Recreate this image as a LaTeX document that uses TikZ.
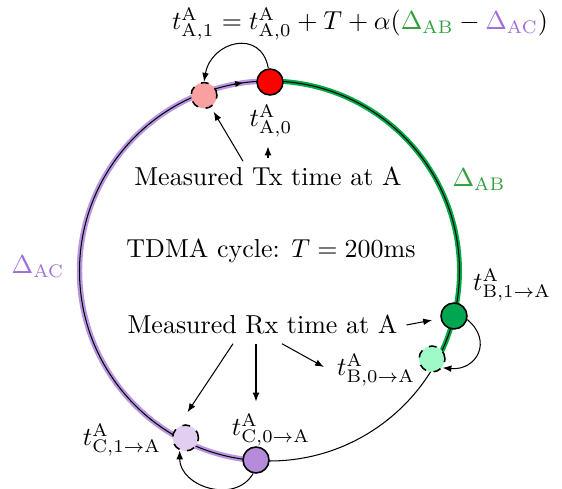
\documentclass[tikz,border=0pt]{standalone}
\usetikzlibrary{arrows.meta}
\definecolor{gband}{RGB}{0,168,72}
\definecolor{gnode}{RGB}{0,166,80}
\definecolor{lgnode}{RGB}{160,250,200}
\definecolor{pband}{RGB}{185,150,225}
\definecolor{pnode}{RGB}{182,140,218}
\definecolor{lpnode}{RGB}{226,206,240}
\definecolor{pinkc}{RGB}{250,160,160}
\definecolor{gtxt}{RGB}{50,160,60}
\definecolor{ptxt}{RGB}{160,110,220}
\begin{document}
\begin{tikzpicture}[x=0.385pt,y=0.385pt,
  arr/.style={-{Latex[length=3.4pt,width=2.6pt]}, line width=0.4pt},
  tnode/.style={circle, draw, line width=0.6pt, minimum size=10pt, inner sep=0pt},
  ghost/.style={tnode, dashed},
  ring/.style={line width=0.4pt}
]
\useasboundingbox (0,0) rectangle (562,489);
\coordinate (O) at (269.5,218);
% coloured bands
\draw[gband, line width=1.9pt] (O) ++(90:190) arc[start angle=90, end angle=-28, radius=190];
\draw[pband, line width=2.1pt] (O) ++(90:190) arc[start angle=90, end angle=266, radius=190];
% ring
\draw[ring] (O) circle[radius=190];
\draw[ring, -{Latex[length=3pt,width=2.4pt]}] (O) ++(101:190) arc[start angle=101, end angle=98, radius=190];
% time nodes
\node[tnode, fill=red] (red) at (270,407) {};
\node[ghost, fill=pinkc] (pink) at (204,393.5) {};
\node[tnode, fill=gnode] (green) at (454,173) {};
\node[ghost, fill=lgnode] (lgreen) at (432,130) {};
\node[tnode, fill=pnode] (purple) at (256,29) {};
\node[ghost, fill=lpnode] (lpurple) at (185.5,51) {};
% texts
\node (formula) at (360,465) {$t^{\mathrm{A}}_{\mathrm{A},1} = t^{\mathrm{A}}_{\mathrm{A},0} + T + \alpha({\color{gtxt}\Delta_{\mathrm{AB}}} - {\color{ptxt}\Delta_{\mathrm{AC}}})$};
\node (tA0) at (271,368) {$t^{\mathrm{A}}_{\mathrm{A},0}$};
\node[anchor=base] (tx) at (268,303) {Measured Tx time at A};
\node[anchor=base] (tdma) at (271,231) {TDMA cycle: $T=200$ms};
\node[anchor=base] (rx) at (262.5,155) {Measured Rx time at A};
\node (tB0) at (376,119) {$t^{\mathrm{A}}_{\mathrm{B},0\to\mathrm{A}}$};
\node (tB1) at (512,204) {$t^{\mathrm{A}}_{\mathrm{B},1\to\mathrm{A}}$};
\node (tC1) at (122,49) {$t^{\mathrm{A}}_{\mathrm{C},1\to\mathrm{A}}$};
\node (tC0) at (271,59) {$t^{\mathrm{A}}_{\mathrm{C},0\to\mathrm{A}}$};
\node[text=gtxt] (dAB) at (479,309) {$\Delta_{\mathrm{AB}}$};
\node[text=ptxt] (dAC) at (38,222) {$\Delta_{\mathrm{AC}}$};
% curved shift arrows
\draw[arr] (red.97) to[out=100, in=80, looseness=1.6] (pink.north);
\draw[arr] (green.-15) to[out=-40, in=-5, looseness=1.6] (lgreen.-40);
\draw[arr] (purple.-102) to[out=-120, in=-90, looseness=1.2] (lpurple.-115);
% Tx arrows
\draw[arr, shorten >=2pt] ([shift={(-25,-3)}]tx.north) -- (pink);
\draw[arr] (tx.north) -- (tx.north |- tA0.south);
% Rx arrows
\draw[arr] ([shift={(-29.5,0)}]rx.south) -- ([shift={(2,12)}]lpurple.north);
\draw[arr] ([shift={(-6.5,0)}]rx.south) -- ([shift={(-15,3)}]tC0.north);
\draw[arr] ([shift={(19.5,0)}]rx.south) -- ([shift={(-4,3)}]tB0.west);
\draw[arr, shorten >=3.3pt] (rx.east) -- (green);
\end{tikzpicture}
\end{document}
